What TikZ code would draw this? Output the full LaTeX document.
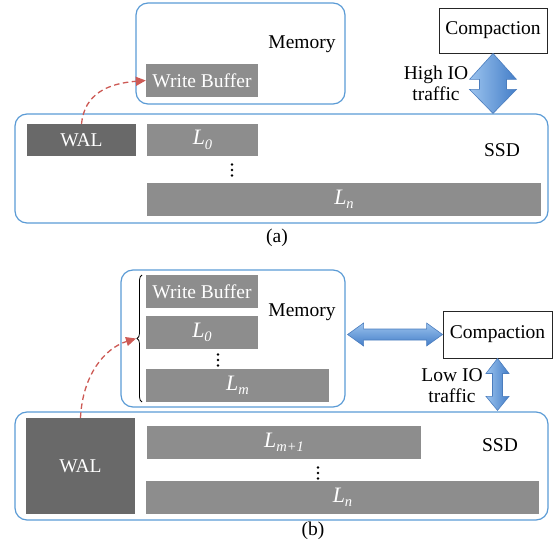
\documentclass[tikz,border=0pt]{standalone}
\usepackage{fontspec}
\setmainfont{Liberation Serif}
\usetikzlibrary{calc,decorations.pathreplacing,arrows.meta}
\definecolor{frameblue}{RGB}{91,155,213}
\definecolor{lvlgray}{RGB}{141,141,141}
\definecolor{walgray}{RGB}{105,105,105}
\definecolor{logred}{RGB}{205,90,85}
\definecolor{arrlight}{RGB}{155,195,238}
\definecolor{arrdark}{RGB}{68,126,200}
\definecolor{arredge}{RGB}{75,125,190}
% italic level name with a lowered subscript
\newcommand{\lvl}[2]{{\itshape\fontsize{22}{22}\selectfont #1\raisebox{-4.5pt}{\fontsize{14.5}{14.5}\selectfont #2}}}
\begin{document}
\begin{tikzpicture}[x=1pt,y=-1pt,
  font=\fontsize{19.5}{21}\selectfont,
  region/.style={draw=frameblue, line width=1.2pt, rounded corners=12pt, inner sep=0pt},
  level/.style={fill=lvlgray, text=white, inner sep=0pt},
  walbox/.style={fill=walgray, text=white, inner sep=0pt},
  task/.style={draw=black!85, line width=0.9pt, fill=white, inner sep=0pt},
  iopathv/.style={draw=arredge, line width=0.6pt, left color=arrlight, right color=arrdark},
  iopathh/.style={draw=arredge, line width=0.6pt, top color=arrlight, bottom color=arrdark},
  logflow/.style={draw=logred, line width=1.3pt, dash pattern=on 5.5pt off 3.5pt,
    -{Triangle[length=10pt,width=9pt]}},
  lbl/.style={inner sep=0pt, text=black},
  vdotsmark/.pic={\foreach \k in {-5.5,0,5.5} \fill (0,\k) circle (1.35pt);},
]
\useasboundingbox (0,0) rectangle (554,548);

% ---------- (a) ----------
\node[region, minimum width=209pt, minimum height=101pt] (memA) at (240.5,53.5) {};
\node[lbl] at (302,44) {Memory};
\node[level, minimum width=112pt, minimum height=33pt] (wbA) at (202,80.5) {Write Buffer};
\node[task, minimum width=108pt, minimum height=45pt] (compA) at (493,30.5) {Compaction};
\node[region, minimum width=533pt, minimum height=109pt] (ssdA) at (281.5,168.5) {};
\node[lbl] at (502,150) {SSD};
\node[walbox, minimum width=109pt, minimum height=32pt] (walA) at (81.5,140) {WAL};
\node[level, minimum width=111pt, minimum height=32pt] (l0A) at (202.5,140) {\lvl{L}{0}};
\coordinate (dotsA) at (232,170);
\pic at (dotsA) {vdotsmark};
\node[level, minimum width=394pt, minimum height=33pt] (lnA) at (344,199.5) {\lvl{L}{n}};
\node[lbl, align=center] at (436,83) {High IO\\traffic};
\node[lbl] at (277,238) {(a)};

% IO traffic between compaction and SSD
\path[iopathv] let \p1=(compA.south), \p2=(ssdA.north) in
  (\x1,\y1) -- (\x1+23.5pt,\y1-26pt) -- (\x1+13.5pt,\y1-26pt) -- (\x1+13.5pt,\y2+24pt)
  -- (\x1+23.5pt,\y2+24pt) -- (\x1,\y2) -- (\x1-23.5pt,\y2+24pt) -- (\x1-13.5pt,\y2+24pt)
  -- (\x1-13.5pt,\y1-26pt) -- (\x1-23.5pt,\y1-26pt) -- cycle;

% log replay into the write buffer
\draw[logflow] (walA.north) .. controls +(3,-30) and +(-38,3) .. (wbA.west);

% ---------- (b) ----------
\node[region, minimum width=224pt, minimum height=137pt] (memB) at (233,338.5) {};
\node[lbl] at (302,312) {Memory};
\node[level, minimum width=112pt, minimum height=33pt] (wbB) at (202,291.5) {Write Buffer};
\node[level, minimum width=112pt, minimum height=33pt] (l0B) at (202,332.5) {\lvl{L}{0}};
\coordinate (dotsB) at (218,360);
\pic at (dotsB) {vdotsmark};
\node[level, minimum width=183pt, minimum height=33pt] (lmB) at (237.5,385.5) {\lvl{L}{m}};
\draw[decorate, decoration={brace, amplitude=5pt}, line width=0.8pt]
  (142,402) -- (142,275);
\coordinate (btip) at (136,338.5);
\node[task, minimum width=109pt, minimum height=47pt] (compB) at (497.5,334.5) {Compaction};
\node[lbl, align=center] at (452,386) {Low IO\\traffic};
\node[region, minimum width=533pt, minimum height=108pt] (ssdB) at (281.5,466) {};
\node[lbl] at (500,445) {SSD};
\node[walbox, minimum width=109pt, minimum height=96pt] (walB) at (80.5,466) {WAL};
\node[level, minimum width=274pt, minimum height=33pt] (lm1B) at (284,442.5) {\lvl{L}{m+1}};
\coordinate (dotsB2) at (318,473);
\pic at (dotsB2) {vdotsmark};
\node[level, minimum width=393pt, minimum height=33pt] (lnB) at (342.5,497.5) {\lvl{L}{n}};
\node[lbl] at (313,531) {(b)};

% memory <-> compaction
\path[iopathh] let \p1=(memB.east), \p2=(compB.west) in
  (\x1+2pt,\y2) -- (\x1+18pt,\y2+11.5pt) -- (\x1+18pt,\y2+5.5pt) -- (\x2-16pt,\y2+5.5pt)
  -- (\x2-16pt,\y2+11.5pt) -- (\x2,\y2) -- (\x2-16pt,\y2-11.5pt) -- (\x2-16pt,\y2-5.5pt)
  -- (\x1+18pt,\y2-5.5pt) -- (\x1+18pt,\y2-11.5pt) -- cycle;

% compaction <-> SSD
\path[iopathv] let \p1=(compB.south), \p2=(ssdB.north) in
  (\x1,\y1) -- (\x1+11.5pt,\y1-15pt) -- (\x1+5pt,\y1-15pt) -- (\x1+5pt,\y2+15pt)
  -- (\x1+11.5pt,\y2+15pt) -- (\x1,\y2+1pt) -- (\x1-11.5pt,\y2+15pt) -- (\x1-5pt,\y2+15pt)
  -- (\x1-5pt,\y1-15pt) -- (\x1-11.5pt,\y1-15pt) -- cycle;

% log replay into the in-memory levels
\draw[logflow] (walB.north) .. controls +(2,-42) and +(-32,10) .. (btip);
\end{tikzpicture}
\end{document}
